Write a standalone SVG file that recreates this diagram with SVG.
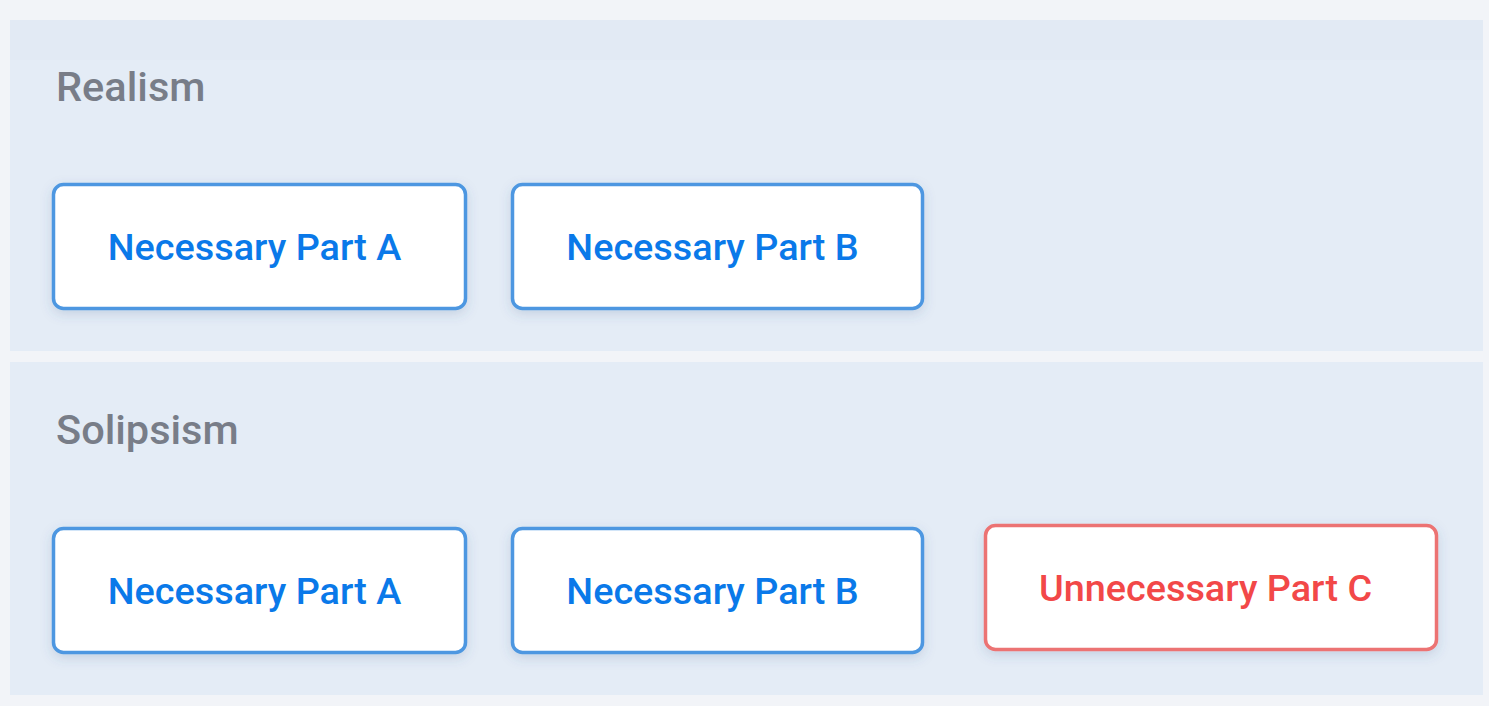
<svg xmlns="http://www.w3.org/2000/svg" width="1489" height="706" viewBox="0 0 1489 706">
<defs>
<filter id="sh" x="-10%" y="-20%" width="120%" height="150%">
<feDropShadow dx="0" dy="4" stdDeviation="6" flood-color="#3a5a8a" flood-opacity="0.18"/>
</filter>
<style>
.panel{fill:#e4ecf6}
.band{fill:#e2eaf4}
.title{font-family:Roboto,"Liberation Sans",sans-serif;font-size:41.5px;font-weight:500;fill:#787d88}
.box{fill:#ffffff;stroke-width:3.5}
.nec .box{stroke:#4d97e1}
.unn .box{stroke:#ec7373}
.lbl{font-family:Roboto,"Liberation Sans",sans-serif;font-size:37.8px;font-weight:500;text-anchor:middle}
.nec .lbl{fill:#0a79e9}
.unn .lbl{fill:#f24848}
</style>
</defs>
<rect width="1489" height="706" fill="#f2f4f8"/>
<g id="realism">
<rect class="panel" x="10" y="20" width="1473" height="331"/>
<rect class="band" x="10" y="20" width="1473" height="40"/>
<text class="title" x="56" y="101">Realism</text>
</g>
<g id="solipsism">
<rect class="panel" x="10" y="362" width="1473" height="333"/>
<text class="title" x="56" y="444">Solipsism</text>
</g>
<g id="connectors"></g>
<g id="r-a" class="nec">
<rect class="box" x="53.5" y="184.5" width="412" height="124" rx="10" filter="url(#sh)"/>
<text class="lbl" x="254.5" y="260">Necessary Part A</text>
</g>
<g id="r-b" class="nec">
<rect class="box" x="512.5" y="184.5" width="410" height="124" rx="10" filter="url(#sh)"/>
<text class="lbl" x="712.5" y="260">Necessary Part B</text>
</g>
<g id="s-a" class="nec">
<rect class="box" x="53.5" y="528.5" width="412" height="124" rx="10" filter="url(#sh)"/>
<text class="lbl" x="254.5" y="604">Necessary Part A</text>
</g>
<g id="s-b" class="nec">
<rect class="box" x="512.5" y="528.5" width="410" height="124" rx="10" filter="url(#sh)"/>
<text class="lbl" x="712.5" y="604">Necessary Part B</text>
</g>
<g id="s-c" class="unn">
<rect class="box" x="985.5" y="525.5" width="451" height="124" rx="10" filter="url(#sh)"/>
<text class="lbl" x="1205.5" y="601">Unnecessary Part C</text>
</g>
</svg>
